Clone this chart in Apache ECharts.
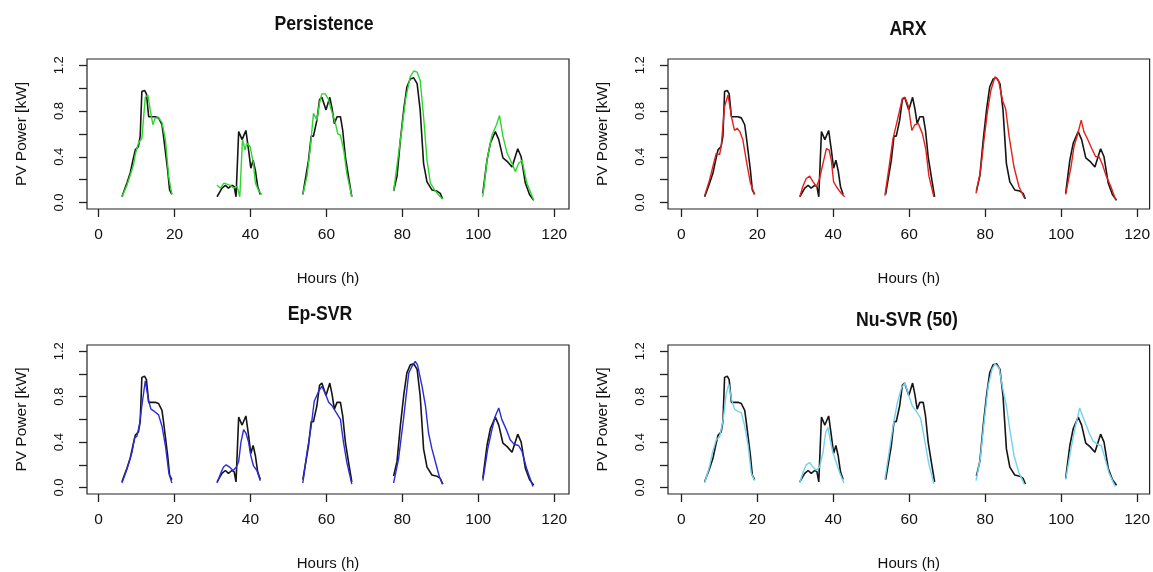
<!DOCTYPE html>
<html>
<head>
<meta charset="utf-8">
<script src="https://cdn.jsdelivr.net/npm/echarts@6/dist/echarts.min.js"></script>
<style>
html,body{margin:0;padding:0;background:#fff;}
#chart{width:1153px;height:572px;}
</style>
</head>
<body>
<div id="chart"></div>
<script>
// ---- Data (hours, kW); null separates days ----
const panelTitles = ['Persistence', 'ARX', 'Ep-SVR', 'Nu-SVR (50)'];
const xTickValues = [0, 20, 40, 60, 80, 100, 120];
const yTickValues = [0, 0.2, 0.4, 0.6, 0.8, 1.0, 1.2];
const yLabelValues = [0, 0.4, 0.8, 1.2];
const xAxisTitle = 'Hours (h)';
const yAxisTitle = 'PV Power [kW]';

const actualKW = [
  [6.15,0.05],[7.47,0.17],[8.35,0.26],[9.05,0.37],[9.67,0.46],[10.5,0.49],[10.96,0.58],[11.4,0.97],[12.1,0.98],[12.6,0.95],[13.2,0.75],[14.9,0.75],[15.8,0.74],[16.7,0.68],[17.1,0.58],[18.2,0.28],[18.7,0.11],[19.3,0.07],
  null,
  [31.2,0.05],[32.5,0.125],[33.4,0.15],[34.2,0.125],[35.1,0.15],[35.7,0.14],[36.2,0.05],[36.9,0.62],[37.8,0.55],[38.8,0.63],[39.5,0.46],[40.1,0.30],[40.7,0.37],[41.3,0.28],[41.9,0.14],[42.6,0.07],
  null,
  [53.8,0.07],[55.3,0.37],[56.0,0.58],[56.6,0.58],[57.5,0.72],[58.2,0.90],[58.8,0.92],[59.9,0.81],[60.9,0.92],[61.5,0.82],[62.1,0.69],[62.8,0.75],[63.7,0.75],[64.3,0.63],[65.0,0.40],[65.9,0.21],[66.7,0.05],
  null,
  [77.7,0.10],[78.6,0.23],[79.5,0.55],[80.4,0.82],[81.2,1.01],[82.1,1.08],[83.0,1.09],[83.9,1.04],[84.7,0.81],[85.6,0.34],[86.5,0.18],[87.8,0.11],[89.1,0.10],[90.0,0.08],[90.6,0.03],
  null,
  [101.2,0.08],[102.3,0.37],[103.2,0.52],[104.5,0.62],[105.4,0.55],[106.5,0.39],[107.6,0.36],[108.9,0.31],[109.3,0.30],[110.4,0.47],[111.3,0.40],[112.4,0.17],[113.5,0.07],[114.6,0.02]
];

const persistenceKW = [
  [6.15,0.05],[7.47,0.15],[8.35,0.24],[9.2,0.33],[9.67,0.42],[10.5,0.52],[11.4,0.56],[12.3,0.92],[13.0,0.94],[13.6,0.81],[14.3,0.68],[14.9,0.74],[15.8,0.74],[16.7,0.70],[17.6,0.55],[18.5,0.22],[19.3,0.07],
  null,
  [31.2,0.15],[32.1,0.125],[33.0,0.17],[33.8,0.16],[34.7,0.15],[35.6,0.125],[36.5,0.14],[37.2,0.05],[37.9,0.55],[38.6,0.46],[39.0,0.52],[39.9,0.49],[40.8,0.34],[41.3,0.17],[42.2,0.10],[43.0,0.07],
  null,
  [53.8,0.07],[54.9,0.23],[55.8,0.49],[56.6,0.78],[57.5,0.72],[58.2,0.87],[58.8,0.95],[59.7,0.95],[60.6,0.90],[61.2,0.82],[62.4,0.69],[63.0,0.60],[63.7,0.59],[64.6,0.45],[65.4,0.25],[66.7,0.05],
  null,
  [77.7,0.10],[79.5,0.55],[80.9,0.91],[82.1,1.10],[83.0,1.15],[83.9,1.14],[84.7,1.07],[85.6,0.75],[86.5,0.37],[87.4,0.17],[88.7,0.10],[90.0,0.05],[90.6,0.03],
  null,
  [101.2,0.05],[102.3,0.37],[103.6,0.59],[104.8,0.68],[105.6,0.76],[106.5,0.58],[107.6,0.43],[108.9,0.34],[109.8,0.27],[110.6,0.34],[111.5,0.37],[112.8,0.17],[114.6,0.02]
];

const arxKW = [
  [6.15,0.06],[7.46,0.20],[8.5,0.34],[9.2,0.43],[10.1,0.42],[10.5,0.49],[11.4,0.84],[12.3,0.94],[13.2,0.75],[14.0,0.63],[14.7,0.65],[15.4,0.62],[16.2,0.55],[17.1,0.37],[18.2,0.17],[19.3,0.07],
  null,
  [31.2,0.05],[32.0,0.14],[32.9,0.21],[33.8,0.23],[34.7,0.18],[35.6,0.14],[36.4,0.21],[37.3,0.34],[38.2,0.47],[38.9,0.46],[39.5,0.37],[40.1,0.18],[40.8,0.14],[42.1,0.08],[43.0,0.05],
  null,
  [53.6,0.06],[54.7,0.31],[55.75,0.56],[56.9,0.72],[58.2,0.91],[58.9,0.92],[59.8,0.84],[60.7,0.63],[61.5,0.68],[62.4,0.69],[63.5,0.60],[64.4,0.46],[65.2,0.23],[66.5,0.05],
  null,
  [77.6,0.08],[78.8,0.28],[79.7,0.55],[80.6,0.79],[81.5,0.98],[82.6,1.10],[83.5,1.07],[84.6,0.89],[85.4,0.82],[86.3,0.58],[87.6,0.31],[88.9,0.14],[90.3,0.04],
  null,
  [101.2,0.07],[102.6,0.31],[103.4,0.49],[104.3,0.59],[105.3,0.72],[106.0,0.62],[106.9,0.56],[108.1,0.47],[109.1,0.40],[110.0,0.40],[110.9,0.33],[111.9,0.23],[113.1,0.14],[114.4,0.02]
];

const epSvrKW = [
  [6.15,0.04],[7.47,0.16],[8.8,0.31],[9.5,0.44],[10.1,0.45],[10.8,0.56],[11.4,0.72],[12.3,0.94],[13.2,0.76],[13.8,0.69],[14.7,0.67],[15.8,0.64],[16.7,0.54],[17.6,0.37],[18.5,0.13],[19.3,0.04],
  null,
  [31.2,0.04],[32.1,0.12],[32.9,0.18],[33.6,0.20],[34.5,0.18],[35.4,0.15],[36.3,0.18],[36.9,0.23],[37.5,0.40],[38.2,0.51],[38.8,0.48],[39.5,0.40],[40.1,0.28],[40.8,0.19],[41.7,0.15],[42.6,0.06],
  null,
  [53.8,0.04],[54.9,0.31],[56.0,0.54],[56.8,0.76],[58.0,0.85],[58.8,0.89],[59.7,0.83],[60.6,0.75],[61.5,0.72],[62.4,0.67],[63.7,0.60],[64.5,0.40],[65.4,0.22],[66.7,0.03],
  null,
  [77.7,0.04],[79.0,0.25],[80.3,0.60],[81.7,1.01],[82.6,1.07],[83.4,1.11],[84.0,1.08],[85.2,0.89],[86.1,0.72],[86.9,0.48],[87.8,0.34],[89.0,0.19],[89.8,0.09],[90.7,0.03],
  null,
  [101.2,0.06],[102.5,0.34],[103.6,0.51],[104.5,0.63],[105.4,0.70],[106.2,0.60],[107.4,0.51],[108.4,0.42],[109.5,0.38],[110.6,0.37],[111.5,0.32],[112.8,0.16],[114.4,0.01]
];

const nuSvrKW = [
  [6.15,0.04],[7.46,0.19],[8.3,0.32],[9.2,0.42],[10.1,0.45],[11.0,0.59],[11.85,0.83],[12.5,0.91],[13.2,0.78],[14.0,0.69],[14.9,0.67],[15.8,0.66],[16.7,0.54],[17.6,0.37],[18.4,0.13],[19.3,0.06],
  null,
  [31.2,0.04],[32.0,0.13],[32.9,0.20],[33.8,0.22],[34.7,0.18],[35.6,0.15],[36.4,0.18],[37.3,0.31],[38.0,0.48],[38.6,0.53],[39.2,0.42],[39.9,0.31],[40.8,0.22],[41.7,0.13],[42.8,0.04],
  null,
  [53.6,0.07],[54.7,0.31],[55.75,0.54],[56.9,0.75],[58.0,0.88],[58.9,0.92],[59.8,0.82],[60.8,0.72],[61.9,0.67],[63.0,0.61],[63.9,0.45],[65.1,0.22],[66.5,0.03],
  null,
  [77.6,0.06],[78.7,0.25],[79.7,0.57],[80.8,0.89],[81.8,1.04],[82.6,1.09],[83.7,1.05],[84.7,0.86],[85.6,0.72],[86.5,0.51],[87.6,0.28],[88.9,0.13],[90.3,0.03],
  null,
  [101.2,0.07],[102.6,0.34],[103.7,0.53],[104.9,0.70],[106.0,0.60],[107.4,0.48],[108.4,0.41],[109.6,0.38],[110.6,0.37],[111.6,0.25],[112.6,0.13],[114.2,0.01]
];

const forecasts = [persistenceKW, arxKW, epSvrKW, nuSvrKW];

// ---- Styling / layout ----
const forecastColors = ['#2fd52f', '#e3211c', '#2b2bd9', '#74d2ee'];
const grids = [
  {left: 87, top: 59, width: 482, height: 150},
  {left: 668, top: 59, width: 482, height: 150},
  {left: 87, top: 345, width: 482, height: 150},
  {left: 668, top: 345, width: 482, height: 150}
];
const xRanges = [[-3.05, 123.9], [-3.5, 123.3], [-3.05, 123.9], [-3.5, 123.3]];
const titlePos = [[324, 24], [908, 29], [320, 314], [907, 320]];

function toSeriesData(arr) {
  return arr.map(p => p === null ? ['-', '-'] : p);
}

const font = 'Liberation Sans, Arial, sans-serif';
const option = {
  animation: false,
  backgroundColor: '#ffffff',
  graphic: panelTitles.map((t, i) => ({
    type: 'text',
    x: titlePos[i][0],
    y: titlePos[i][1],
    scaleX: 0.84,
    style: {
      text: t,
      font: 'bold 21px "Liberation Sans", Arial, sans-serif',
      fill: '#111',
      textAlign: 'center',
      textVerticalAlign: 'middle'
    }
  })),
  grid: grids.map(g => Object.assign({show: true, borderColor: '#222', borderWidth: 1.2, backgroundColor: 'transparent'}, g)),
  xAxis: grids.map((g, i) => ({
    type: 'value',
    gridIndex: i,
    min: xRanges[i][0],
    max: xRanges[i][1],
    name: xAxisTitle,
    nameLocation: 'middle',
    nameGap: 62,
    nameTextStyle: {fontFamily: font, fontSize: 15, color: '#111'},
    axisLine: {show: false, onZero: false},
    splitLine: {show: false},
    axisTick: {show: true, inside: false, length: 8, customValues: xTickValues, lineStyle: {color: '#222', width: 1.3}},
    axisLabel: {show: true, customValues: xTickValues, margin: 18, fontFamily: font, fontSize: 15.5, color: '#111'}
  })),
  yAxis: grids.map((g, i) => ({
    type: 'value',
    gridIndex: i,
    min: -0.057,
    max: 1.255,
    name: yAxisTitle,
    nameLocation: 'middle',
    nameGap: 57,
    nameTextStyle: {fontFamily: font, fontSize: 15.5, color: '#111'},
    axisLine: {show: false, onZero: false},
    splitLine: {show: false},
    axisTick: {show: true, inside: false, length: 8, customValues: yTickValues, lineStyle: {color: '#222', width: 1.3}},
    axisLabel: {show: true, customValues: yLabelValues, rotate: 90, margin: 21, fontFamily: font, fontSize: 13, color: '#111',
      formatter: v => Number(v).toFixed(1)}
  })),
  series: []
};

for (let i = 0; i < 4; i++) {
  option.series.push({
    type: 'line', xAxisIndex: i, yAxisIndex: i, data: toSeriesData(actualKW),
    showSymbol: false, connectNulls: false, lineStyle: {color: '#151515', width: 1.6}, z: 2
  });
  option.series.push({
    type: 'line', xAxisIndex: i, yAxisIndex: i, data: toSeriesData(forecasts[i]),
    showSymbol: false, connectNulls: false, lineStyle: {color: forecastColors[i], width: 1.4}, z: 3
  });
}

const chart = echarts.init(document.getElementById('chart'), null, {renderer: 'canvas'});
chart.setOption(option);
</script>
</body>
</html>
